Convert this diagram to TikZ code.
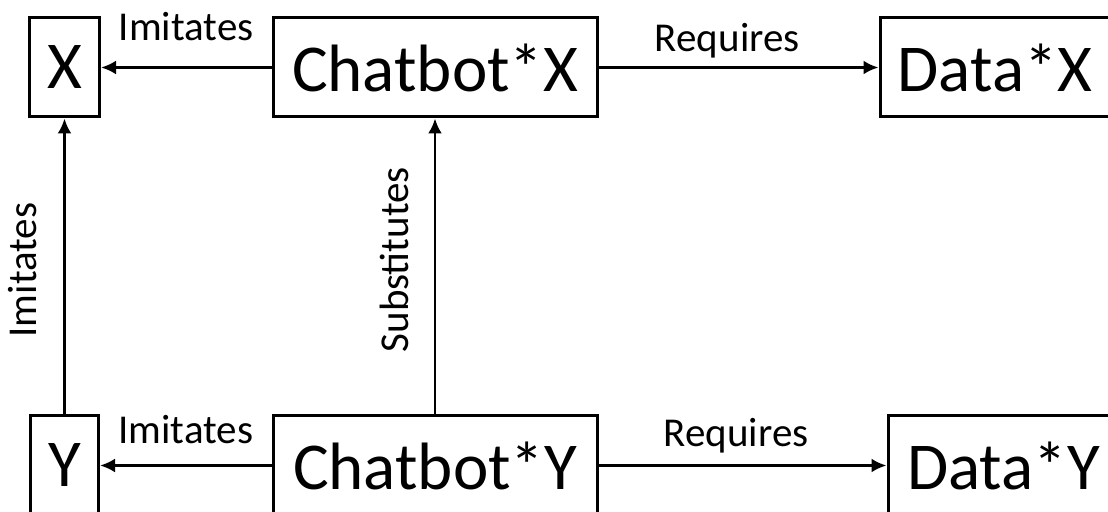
\documentclass[tikz,border=0pt]{standalone}
\usepackage{fontspec}
\setmainfont{Carlito}
\usetikzlibrary{arrows.meta}
\begin{document}
\begin{tikzpicture}[x=0.5pt,y=-0.5pt,
    entity/.style={draw, line width=1.5pt, inner sep=0pt, minimum height=49.5pt, font=\fontsize{33.5}{40}\selectfont},
    relation/.style={-{Latex[length=7.5pt,width=7pt]}, line width=1.4pt},
    rellabel/.style={font=\fontsize{20.5}{24}\selectfont, inner xsep=0pt, outer sep=0pt, anchor=south}]
\useasboundingbox (0,0) rectangle (1108,512);
\clip (0,0) rectangle (1108,512);
% boxes
\node[entity, minimum width=35pt] (x) at (64.5,67.5) {X};
\node[entity, minimum width=162pt] (chatx) at (435,67.5) {Chatbot*X};
\node[entity, minimum width=115pt] (datax) at (995,67.5) {Data*X};
\node[entity, minimum width=34pt] (y) at (64.5,465.5) {Y};
\node[entity, minimum width=162pt] (chaty) at (435,465.5) {Chatbot*Y};
\node[entity, minimum width=115.5pt] (datay) at (1003.5,465.5) {Data*Y};
% top row
\draw[relation] (chatx) -- node[rellabel, inner ysep=13.5pt]{Imitates} (x);
\draw[relation] (chatx) -- node[rellabel, pos=0.46, inner ysep=4.5pt]{Requires} (datax);
% bottom row
\draw[relation] (chaty) -- node[rellabel, inner ysep=11pt]{Imitates} (y);
\draw[relation] (chaty) -- node[rellabel, pos=0.478, inner ysep=6pt]{Requires} (datay);
% verticals
\draw[relation] (y.north) -- node[rellabel, pos=0.488, rotate=90, inner ysep=14pt]{Imitates} (x.south);
\draw[relation] (chaty.north) -- node[rellabel, pos=0.523, rotate=90, inner ysep=13pt]{Substitutes} (chatx.south);
\end{tikzpicture}
\end{document}
